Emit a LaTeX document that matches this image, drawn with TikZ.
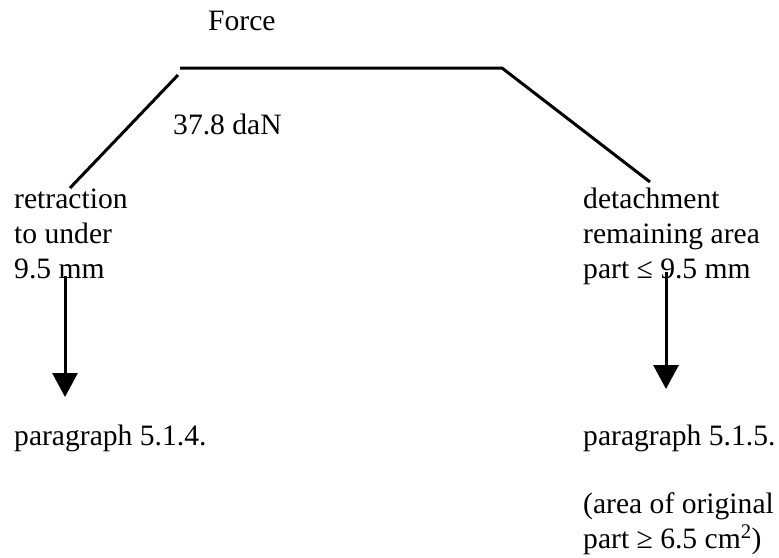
\documentclass[tikz,border=0pt]{standalone}
\usepackage{fontspec}
\setmainfont{Liberation Serif}
\usetikzlibrary{arrows.meta}
\begin{document}
\begin{tikzpicture}[x=1pt,y=-1pt,
		txt/.style={inner sep=0pt,anchor=base west,align=left,font=\fontsize{29.6}{35}\selectfont},
		ln/.style={line width=3pt},
		arr/.style={line width=3pt,-{Triangle[width=25pt,length=24pt]}}]
		\useasboundingbox (0,0) rectangle (779,557);
		\node[txt] (force) at (208,30) {Force};
		\node[txt] (load) at (173,134) {37.8 daN};
		\node[txt] (retract) at (14,278) {retraction\\to under\\9.5 mm};
		\node[txt] (detach) at (583,278) {detachment\\remaining area\\part ≤ 9.5 mm};
		\node[txt] (parL) at (14,445) {paragraph 5.1.4.};
		\node[txt] (parR) at (583,445) {paragraph 5.1.5.};
		\node[txt] (areaR) at (583,548) {(area of original\\part ≥ 6.5 cm\textsuperscript{2})};
		% force curve
		\coordinate (topL) at (180,68);
		\coordinate (topR) at (502,68);
		\coordinate (slopeL) at (178,75);
		\coordinate (footL) at (70,188);
		\coordinate (footR) at (650,182);
		\draw[ln] (topL) -- (topR) -- (footR);
		\draw[ln] (slopeL) -- (footL);
		% outcomes
		\coordinate (fromL) at (65,276);
		\coordinate (toL) at (65,397);
		\coordinate (fromR) at (666,272);
		\coordinate (toR) at (666,389);
		\draw[arr] (fromL) -- (toL);
		\draw[arr] (fromR) -- (toR);
	\end{tikzpicture}
\end{document}
